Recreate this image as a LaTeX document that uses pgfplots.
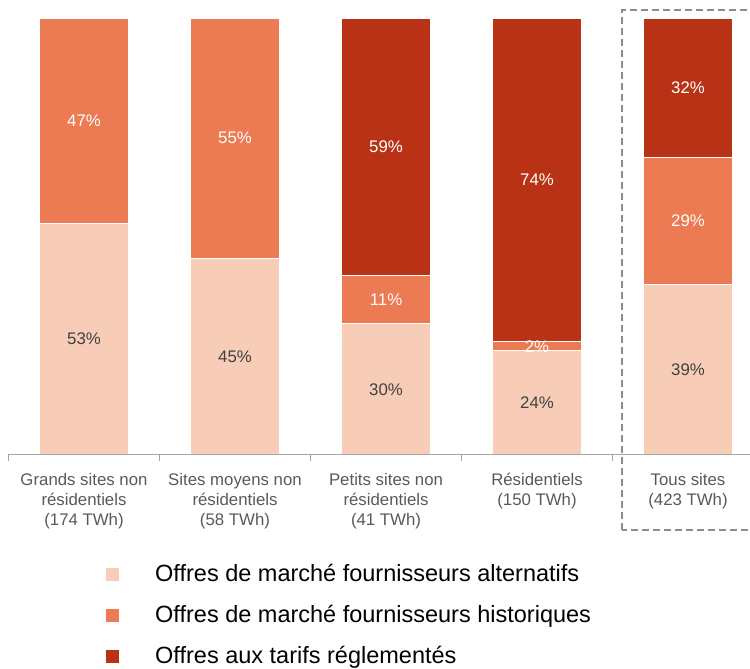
\documentclass[border=0pt]{standalone}
\usepackage{pgfplots}
\pgfplotsset{compat=1.18}
\usepackage{fontspec}
\setmainfont{Liberation Sans}
\definecolor{cA}{HTML}{F8CDB8}
\definecolor{cB}{HTML}{EC7A52}
\definecolor{cC}{HTML}{B93216}
\definecolor{tickgray}{HTML}{595959}
\definecolor{labgray}{HTML}{404040}
\definecolor{axgray}{HTML}{A6A6A6}
\pgfplotsset{
  sqleg/.style={legend image code/.code={
      \fill[##1,draw=none] (6pt,-6.5pt) rectangle (18.5pt,6pt);
      \path[draw=none,fill=none] (0pt,0pt) -- (55pt,0pt);}},
  common/.style={
    at={(8.5pt,214pt)}, anchor=south west,
    scale only axis, width=741.5pt, height=437pt,
    xmin=-0.5, xmax=4.4106, ymin=0, ymax=100,
  },
}
\begin{document}
\begin{tikzpicture}[x=1pt,y=1pt]
\useasboundingbox (0,0) rectangle (750,669);
\begin{axis}[
  common,
  ybar stacked, bar width=90pt,
  axis on top,
  axis x line*=bottom, axis y line=none,
  x axis line style={draw=axgray, line width=1pt, -},
  xtick={0,1,2,3,4},
  xticklabels={{Grands sites non\\résidentiels\\(174 TWh)},{Sites moyens non\\résidentiels\\(58 TWh)},{Petits sites non\\résidentiels\\(41 TWh)},{Résidentiels\\(150 TWh)},{Tous sites\\(423 TWh)}},
  xticklabel style={align=center, text=tickgray, font=\fontsize{16.8pt}{20pt}\selectfont, inner sep=0pt, yshift=-18pt},
  major tick length=0pt,
  extra x ticks={-0.5,0.5,1.5,2.5,3.5},
  extra x tick labels={},
  extra x tick style={major tick length=6pt, tick align=outside, tick style={draw=axgray, line width=1pt}},
  ytick=\empty,
  legend style={at={(0.1234,-0.2426)}, anchor=north west, draw=none, fill=none,
    font=\fontsize{23.5pt}{28pt}\selectfont, row sep=15pt, inner sep=0pt,
    nodes={inner sep=0pt, text height=20pt, text depth=6pt}},
  legend cell align=left,
]
\addplot[fill=cA, draw=white, line width=1.2pt, sqleg] coordinates {(0,53) (1,45) (2,30) (3,24) (4,39)};
\addplot[fill=cB, draw=white, line width=1.2pt, sqleg] coordinates {(0,47) (1,55) (2,11) (3,2) (4,29)};
\addplot[fill=cC, draw=white, line width=1.2pt, sqleg] coordinates {(0,0) (1,0) (2,59) (3,74) (4,32)};
\legend{Offres de marché fournisseurs alternatifs, Offres de marché fournisseurs historiques, Offres aux tarifs réglementés}
\end{axis}
\begin{axis}[common, hide axis, clip=false]
\addplot[draw=none, mark=none, nodes near coords={\pgfplotspointmeta\%}, point meta=explicit symbolic,
  nodes near coords style={anchor=center, text=labgray, font=\fontsize{16.8pt}{20pt}\selectfont}] table[meta=l] {
x y l
0 26.5 53
1 22.5 45
2 15 30
3 12 24
4 19.5 39
};
\addplot[draw=none, mark=none, nodes near coords={\pgfplotspointmeta\%}, point meta=explicit symbolic,
  nodes near coords style={anchor=center, text=white, font=\fontsize{16.8pt}{20pt}\selectfont}] table[meta=l] {
x y l
0 76.5 47
1 72.5 55
2 35.5 11
2 70.5 59
3 24.7 2
3 63 74
4 53.5 29
4 84 32
};
\end{axis}
\draw[axgray!85!black, dash pattern=on 7pt off 4pt, line width=1.8pt] (622,139) rectangle (770,659);
\end{tikzpicture}
\end{document}
